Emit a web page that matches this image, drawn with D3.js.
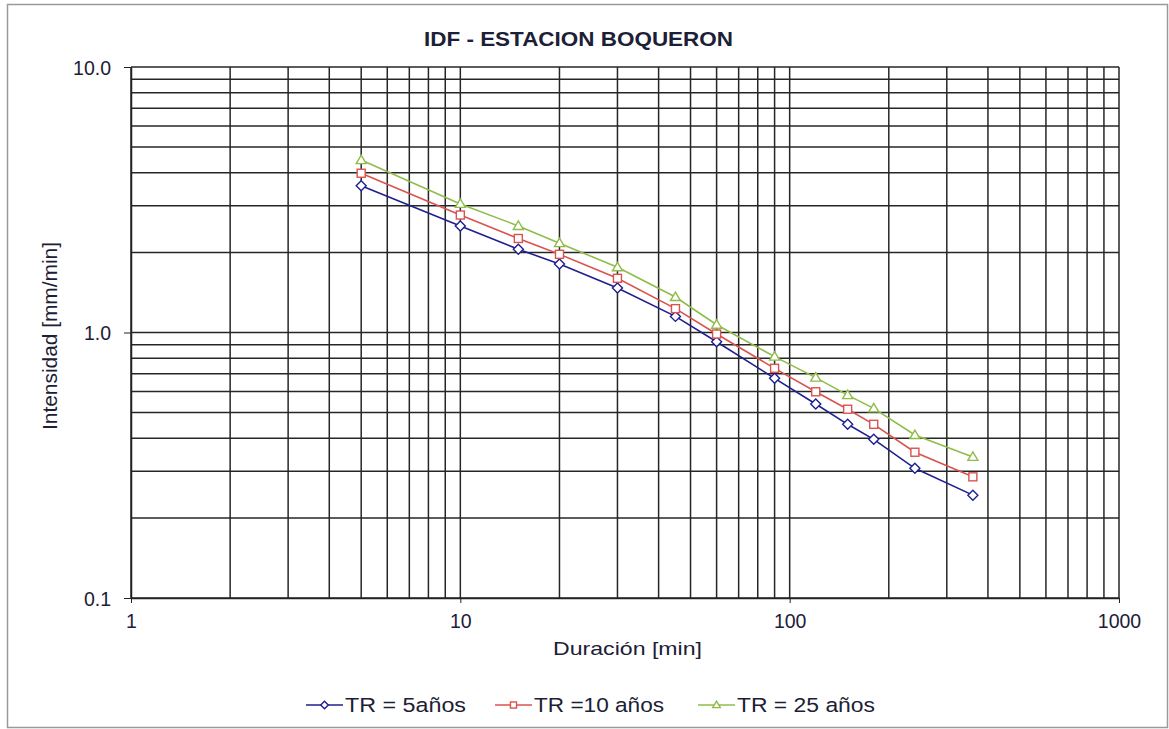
<!DOCTYPE html>
<html>
<head>
<meta charset="utf-8">
<script src="https://cdn.jsdelivr.net/npm/d3@7"></script>
<style>
  body { margin: 0; background: #fff; }
  text { font-family: "Liberation Sans", Arial, sans-serif; fill: #1c2036; }
</style>
</head>
<body>
<svg id="chart" width="1169" height="729"></svg>
<script>
// durations (min) and intensities (mm/min)
var duracion = [5, 10, 15, 20, 30, 45, 60, 90, 120, 150, 180, 240, 360];
var tr5  = [3.57, 2.52, 2.06, 1.81, 1.47, 1.15, 0.923, 0.672, 0.538, 0.451, 0.396, 0.308, 0.244];
var tr10 = [3.98, 2.77, 2.26, 1.97, 1.60, 1.23, 0.987, 0.733, 0.598, 0.514, 0.451, 0.354, 0.286];
var tr25 = [4.46, 3.05, 2.52, 2.17, 1.76, 1.36, 1.07, 0.811, 0.676, 0.581, 0.518, 0.411, 0.340];
var seriesNames = ["TR = 5años", "TR =10 años", "TR = 25 años"];
var seriesColors = ["#1f1f8f", "#d9534f", "#8fbc4a"];
var xTickLabels = ["1", "10", "100", "1000"];
var yTickLabels = ["0.1", "1.0", "10.0"];

var svg = d3.select("#chart");

// outer frame
svg.append("rect")
    .attr("x", 7.5).attr("y", 4.5)
    .attr("width", 1160).attr("height", 723)
    .attr("fill", "none")
    .attr("stroke", "#9a9a9a")
    .attr("stroke-width", 1.5);

var margin = {left: 131, top: 67, right: 1119, bottom: 598};

var x = d3.scaleLog().domain([1, 1000]).range([margin.left, margin.right]);
var y = d3.scaleLog().domain([0.1, 10]).range([margin.bottom, margin.top]);

// grid values: 1..9 per decade
var xGrid = [], yGrid = [];
[1, 10, 100].forEach(function(d){ for (var i = 1; i < 10; i++) xGrid.push(d * i); });
xGrid.push(1000);
[0.1, 1].forEach(function(d){ for (var i = 1; i < 10; i++) yGrid.push(+(d * i).toFixed(2)); });
yGrid.push(10);

var grid = svg.append("g").attr("class", "grid");
grid.selectAll("line.v").data(xGrid).enter().append("line")
    .attr("x1", function(d){ return x(d); }).attr("x2", function(d){ return x(d); })
    .attr("y1", margin.top).attr("y2", margin.bottom)
    .attr("stroke", "#262626").attr("stroke-width", 1.5);
grid.selectAll("line.h").data(yGrid).enter().append("line")
    .attr("y1", function(d){ return y(d); }).attr("y2", function(d){ return y(d); })
    .attr("x1", margin.left).attr("x2", margin.right)
    .attr("stroke", "#262626").attr("stroke-width", 1.5);

// axes
var xAxis = d3.axisBottom(x)
    .tickValues([1, 10, 100, 1000])
    .tickFormat(function(d, i){ return xTickLabels[i]; })
    .tickSize(5).tickSizeOuter(0);
var gx = svg.append("g").attr("transform", "translate(0," + margin.bottom + ")").call(xAxis);
gx.select(".domain").attr("stroke", "#222").attr("stroke-width", 1.5);
gx.selectAll(".tick line").attr("stroke", "#222");
gx.selectAll(".tick text").attr("y", 30).attr("dy", 0).style("font-size", "19.5px").attr("fill", "#1c2340");

var yAxis = d3.axisLeft(y)
    .tickValues([0.1, 1, 10])
    .tickFormat(function(d, i){ return yTickLabels[i]; })
    .tickSize(7).tickSizeOuter(0);
var gy = svg.append("g").attr("transform", "translate(" + margin.left + ",0)").call(yAxis);
gy.select(".domain").attr("stroke", "#222").attr("stroke-width", 1.5);
gy.selectAll(".tick line").attr("stroke", "#222");
gy.selectAll(".tick text").attr("x", -20).attr("dy", "0.36em").style("font-size", "19.5px").attr("fill", "#1c2340");

// titles
svg.append("text").attr("x", 578.5).attr("y", 46).attr("text-anchor", "middle")
    .style("font-size", "19.5px").style("font-weight", "bold").attr("fill", "#111")
    .attr("textLength", 309).attr("lengthAdjust", "spacingAndGlyphs")
    .text("IDF - ESTACION BOQUERON");
svg.append("text").attr("x", 627.5).attr("y", 655).attr("text-anchor", "middle")
    .style("font-size", "18.5px")
    .attr("textLength", 149).attr("lengthAdjust", "spacingAndGlyphs")
    .text("Duración [min]");
svg.append("text").attr("transform", "translate(57,336) rotate(-90)").attr("text-anchor", "middle")
    .style("font-size", "20px")
    .attr("textLength", 188).attr("lengthAdjust", "spacingAndGlyphs")
    .text("Intensidad [mm/min]");

// series
var seriesData = [tr5, tr10, tr25];
var line = d3.line()
    .x(function(d){ return x(d[0]); })
    .y(function(d){ return y(d[1]); });

function marker(g, k, cx, cy, s) {
    if (k === 0) {
        g.append("path").attr("d", "M" + cx + "," + (cy - s) + "L" + (cx + s) + "," + cy + "L" + cx + "," + (cy + s) + "L" + (cx - s) + "," + cy + "Z");
    } else if (k === 1) {
        g.append("rect").attr("x", cx - s * 0.8).attr("y", cy - s * 0.8).attr("width", s * 1.6).attr("height", s * 1.6);
    } else {
        g.append("path").attr("d", "M" + cx + "," + (cy - s) + "L" + (cx + s) + "," + (cy + s * 0.7) + "L" + (cx - s) + "," + (cy + s * 0.7) + "Z");
    }
}

seriesData.forEach(function(vals, k){
    var pts = duracion.map(function(d, i){ return [d, vals[i]]; });
    var g = svg.append("g");
    g.append("path").datum(pts).attr("d", line)
        .attr("fill", "none").attr("stroke", seriesColors[k]).attr("stroke-width", 1.6);
    var mg = g.append("g").attr("fill", "#fff").attr("stroke", seriesColors[k]).attr("stroke-width", 1.4);
    pts.forEach(function(p){ marker(mg, k, x(p[0]), y(p[1]), 5); });
});

// legend
var legendX = [306, 495, 698];
var legendTextW = [121, 130, 138];
var legendY = 705;
seriesNames.forEach(function(name, k){
    var lg = svg.append("g");
    lg.append("line").attr("x1", legendX[k]).attr("x2", legendX[k] + 37)
        .attr("y1", legendY).attr("y2", legendY)
        .attr("stroke", seriesColors[k]).attr("stroke-width", 1.6);
    var mg = lg.append("g").attr("fill", "#fff").attr("stroke", seriesColors[k]).attr("stroke-width", 1.4);
    marker(mg, k, legendX[k] + 18.5, legendY, 3.8);
    lg.append("text").attr("x", legendX[k] + 39).attr("y", legendY + 7)
        .style("font-size", "20.5px")
        .attr("textLength", legendTextW[k]).attr("lengthAdjust", "spacingAndGlyphs")
        .text(name);
});
</script>
</body>
</html>
